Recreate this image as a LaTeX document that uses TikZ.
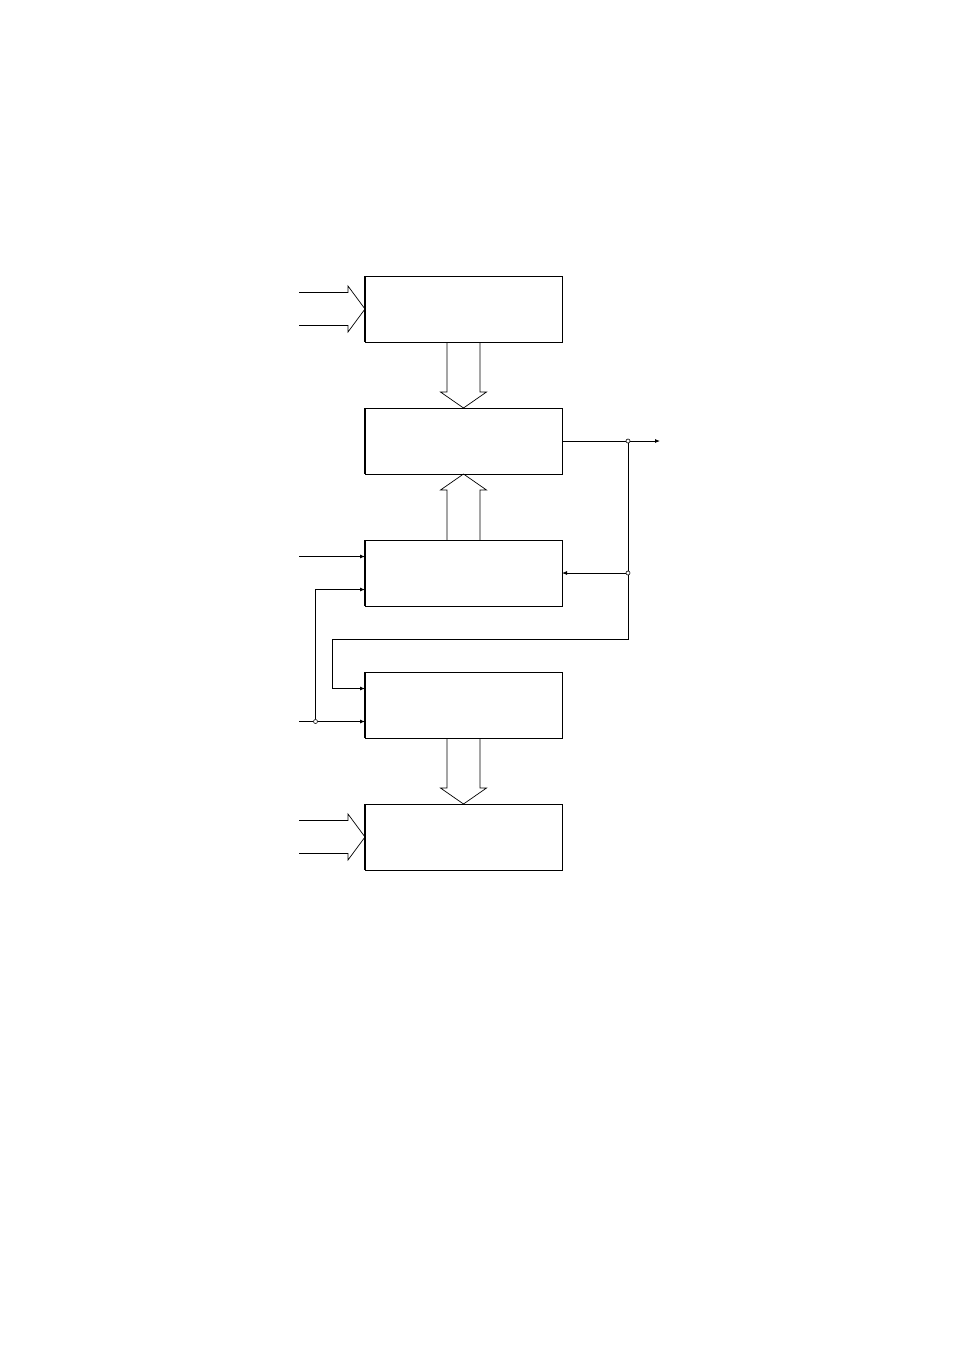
\documentclass[tikz,border=0pt]{standalone}
\usetikzlibrary{arrows.meta,calc}
\tikzset{
  block/.style={draw, line width=0.8pt, minimum width=197pt, minimum height=66pt, inner sep=0pt, outer sep=0pt},
  wire/.style={line width=0.8pt},
  sig/.style={line width=0.8pt, -{Latex[length=5pt,width=4pt]}},
  joint/.style={circle, draw, fill=white, inner sep=0pt, minimum size=4pt, line width=0.6pt},
  hollow/.style={line width=0.7pt, line join=miter}
}
\begin{document}
\begin{tikzpicture}[x=1pt,y=-1pt]
  \useasboundingbox (0,0) rectangle (954,1350);
  % blocks
  \node[block] (b1) at (463.5,309) {};
  \node[block] (b2) at (463.5,441) {};
  \node[block] (b3) at (463.5,573) {};
  \node[block] (b4) at (463.5,705) {};
  \node[block] (b5) at (463.5,837) {};
  \foreach \b in {b1,b2,b3,b4,b5}
    \draw[line width=1.8pt] (\b.north west) -- (\b.south west);
  % wide arrows
  \draw[hollow] ($(b1.south)+(-16.5,0)$) -- ++(0,50) -- ++(-6.5,0) -- (b2.north)
    -- ($(b2.north)+(23,-16)$) -- ++(-6.5,0) -- ($(b1.south)+(16.5,0)$);
  \draw[hollow] ($(b3.north)+(-16.5,0)$) -- ++(0,-50) -- ++(-6.5,0) -- (b2.south)
    -- ($(b2.south)+(23,16)$) -- ++(-6.5,0) -- ($(b3.north)+(16.5,0)$);
  \draw[hollow] ($(b4.south)+(-16.5,0)$) -- ++(0,50) -- ++(-6.5,0) -- (b5.north)
    -- ($(b5.north)+(23,-16)$) -- ++(-6.5,0) -- ($(b4.south)+(16.5,0)$);
  \draw[hollow] ($(b1.west)+(-66,-16.5)$) -- ++(49,0) -- ++(0,-6.5) -- (b1.west)
    -- ($(b1.west)+(-17,23)$) -- ++(0,-6.5) -- ++(-49,0);
  \draw[hollow] ($(b5.west)+(-66,-16.5)$) -- ++(49,0) -- ++(0,-6.5) -- (b5.west)
    -- ($(b5.west)+(-17,23)$) -- ++(0,-6.5) -- ++(-49,0);
  % inputs
  \coordinate (b3in1) at ($(b3.west)!0.5!(b3.north west)$);
  \coordinate (b3in2) at ($(b3.west)!0.5!(b3.south west)$);
  \coordinate (b4in1) at ($(b4.west)!0.5!(b4.north west)$);
  \coordinate (b4in2) at ($(b4.west)!0.5!(b4.south west)$);
  \coordinate (x3) at ($(b3in1)+(-66,0)$);
  \coordinate (x4) at ($(b4in2)+(-66,0)$);
  \node[joint] (j1) at ($(b4in2)+(-49.5,0)$) {};
  \draw[sig] (x3) -- (b3in1);
  \draw[wire] (x4) -- (j1);
  \draw[sig] (j1) -- (b4in2);
  \draw[sig] (j1) |- (b3in2);
  % output and feedback
  \node[joint] (j2) at (628,441) {};
  \node[joint] (j3) at (628,573) {};
  \coordinate (out) at (660,441);
  \draw[wire] (b2.east) -- (j2);
  \draw[sig] (j2) -- (out);
  \draw[wire] (j2) -- (j3);
  \draw[sig] (j3) -- (b3.east);
  \draw[sig] (j3) -- ++(0,66) -| ($(b4in1)+(-33,0)$) -- (b4in1);
\end{tikzpicture}
\end{document}
